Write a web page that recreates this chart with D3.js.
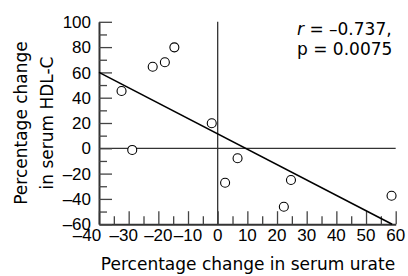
<!DOCTYPE html>
<html><head><meta charset="utf-8">
<script src="https://cdn.jsdelivr.net/npm/d3@7"></script>
<style>body{margin:0;background:#fff}svg{display:block}text{font-family:"DejaVu Sans",sans-serif;fill:#000}text.tk{font-family:"Liberation Sans",Arial,sans-serif}</style>
</head><body><svg id="c" width="408" height="276"></svg>
<script>
const urateChange = [-14.6, -17.8, -21.9, -32.4, -28.8, -2.0, 6.7, 2.5, 24.7, 22.3, 58.6];
const hdlChange   = [79.8, 68.0, 64.5, 45.3, -1.3, 19.8, -7.9, -27.2, -25.1, -46.2, -37.5];
const fitX = [-40, 58.8];
const fitY = [60, -60];
const xTicks = [-40, -30, -20, -10, 0, 10, 20, 30, 40, 50, 60];
const xMinor = [-35, -25, -15, -5, 5, 15, 25, 35, 45, 55];
const yTicks = [-60, -40, -20, 0, 20, 40, 60, 80, 100];
const yMinor = [-50, -30, -10, 10, 30, 50, 70, 90];
const xTitle = "Percentage change in serum urate";
const yTitle = ["Percentage change", "in serum HDL-C"];
const statLines = [["r", " = –0.737,"], ["p", " = 0.0075"]];

const svg = d3.select("#c");
const L = 99, R = 395.7, T = 21.8, B = 224.2;
const x = d3.scaleLinear().domain([-40, 60]).range([L, R]);
const y = d3.scaleLinear().domain([-60, 100]).range([B, T]);
const fmt = v => v < 0 ? "–" + Math.abs(v) : String(v);
const fs = 17;
const xShift = v => v === -40 ? -12 : (v === -30 ? -5 : 0);

// zero reference lines
svg.append("line").attr("x1", x(-40)).attr("x2", x(60)).attr("y1", y(0)).attr("y2", y(0))
  .attr("stroke", "#000").attr("stroke-width", 1);
svg.append("line").attr("x1", x(0)).attr("x2", x(0)).attr("y1", y(100)).attr("y2", y(-60))
  .attr("stroke", "#333").attr("stroke-width", 1.3);

// x axis (ticks pointing up)
const gx = svg.append("g").attr("transform", `translate(0,${B})`);
gx.call(d3.axisBottom(x).tickValues(xTicks).tickSizeInner(-13).tickSizeOuter(0).tickFormat(""));
gx.append("g").call(d3.axisBottom(x).tickValues(xMinor).tickSizeInner(-8).tickSizeOuter(0).tickFormat(""))
  .select(".domain").remove();
gx.selectAll(".domain").attr("stroke", "#333").attr("stroke-width", 2);
gx.selectAll(".tick line").attr("stroke", "#444").attr("stroke-width", 1.3);
svg.append("g").selectAll("text").data(xTicks).join("text").attr("class", "tk")
  .attr("x", d => x(d) + xShift(d)).attr("y", 241)
  .attr("text-anchor", "middle").attr("font-size", fs).text(fmt);

// y axis (ticks pointing right)
const gy = svg.append("g").attr("transform", `translate(${L},0)`);
gy.call(d3.axisLeft(y).tickValues(yTicks).tickSizeInner(-13).tickSizeOuter(0).tickFormat(""));
gy.append("g").call(d3.axisLeft(y).tickValues(yMinor).tickSizeInner(-8).tickSizeOuter(0).tickFormat(""))
  .select(".domain").remove();
gy.selectAll(".domain").attr("stroke", "#333").attr("stroke-width", 2);
gy.selectAll(".tick line").attr("stroke", "#444").attr("stroke-width", 1.3);
svg.append("g").selectAll("text").data(yTicks).join("text").attr("class", "tk")
  .attr("x", 91).attr("y", d => y(d)).attr("dy", "0.36em")
  .attr("text-anchor", "end").attr("font-size", fs).text(fmt);

// regression line
svg.append("line").attr("x1", x(fitX[0])).attr("y1", y(fitY[0])).attr("x2", x(fitX[1])).attr("y2", y(fitY[1]))
  .attr("stroke", "#000").attr("stroke-width", 1.6);

// points
svg.append("g").selectAll("circle").data(urateChange.map((u, i) => [u, hdlChange[i]])).join("circle")
  .attr("cx", d => x(d[0])).attr("cy", d => y(d[1])).attr("r", 4.5)
  .attr("fill", "#fff").attr("stroke", "#000").attr("stroke-width", 1.1);

// titles
svg.append("text").attr("x", (L + 397) / 2).attr("y", 270).attr("text-anchor", "middle")
  .attr("font-size", fs).text(xTitle);
const yt = svg.append("text").attr("transform", "translate(27,123) rotate(-90)")
  .attr("text-anchor", "middle").attr("font-size", fs);
yt.append("tspan").attr("x", 0).attr("y", 0).text(yTitle[0]);
yt.append("tspan").attr("x", 0).attr("y", 26).text(yTitle[1]);

// stats
statLines.forEach((s, i) => {
  const t = svg.append("text").attr("x", 297).attr("y", 35 + i * 20).attr("font-size", fs);
  t.append("tspan").attr("font-style", i === 0 ? "italic" : "normal").text(s[0]);
  t.append("tspan").text(s[1]);
});
</script></body></html>
